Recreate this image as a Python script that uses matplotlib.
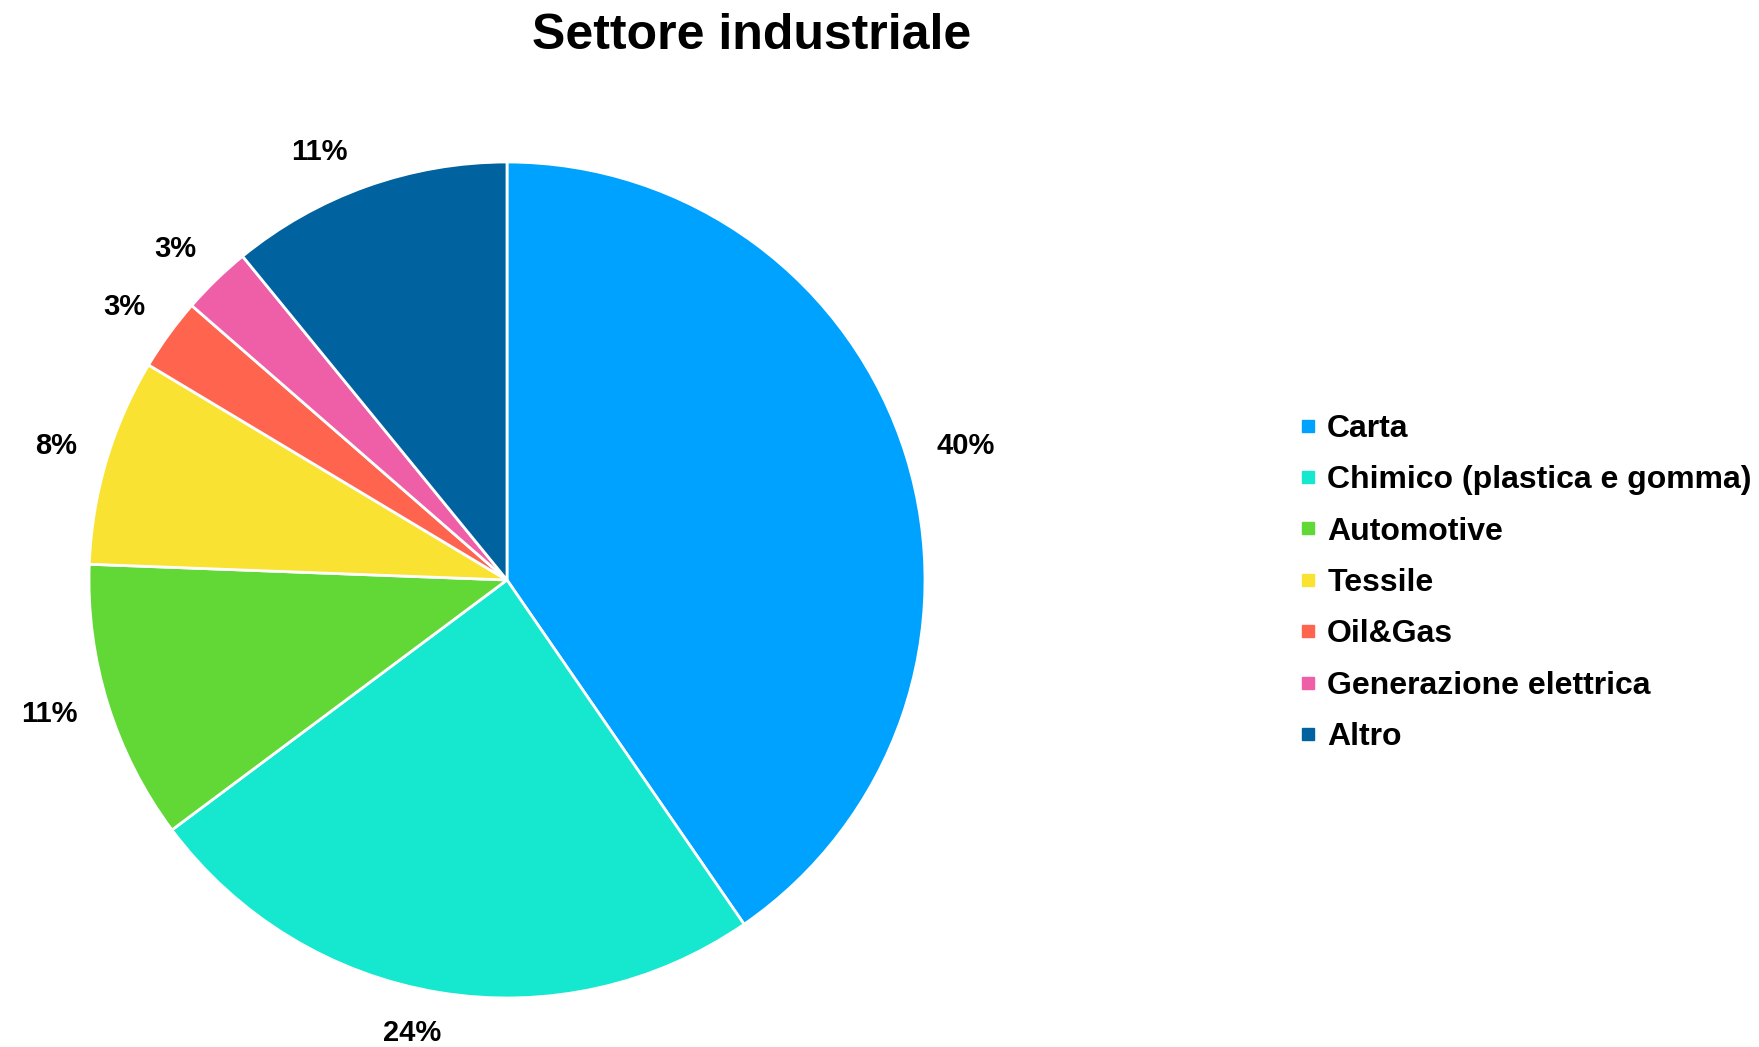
import matplotlib
matplotlib.use("Agg")
import numpy as np
import matplotlib.pyplot as plt
from matplotlib.lines import Line2D

# dati (percentuali per settore)
settori = ["Carta", "Chimico (plastica e gomma)", "Automotive", "Tessile",
           "Oil&Gas", "Generazione elettrica", "Altro"]
quote = [40.4, 24.4, 10.8, 8.0, 2.8, 2.7, 10.9]
colori = ["#00A2FF", "#16E7CF", "#61D836", "#FAE232", "#FF644E", "#EF5FA7", "#00629E"]

W, H = 1759, 1047
fig = plt.figure(figsize=(W / 100, H / 100), dpi=100)

# posizione torta: centro (507, 580) px, raggio 418 px
cx, cy, r, L = 507, 580, 418, 1.3
size = 2 * L * r
ax = fig.add_axes([(cx - size / 2) / W, (H - cy - size / 2) / H, size / W, size / H])

wedges, texts, autotexts = ax.pie(
    quote, colors=colori, startangle=90, counterclock=False,
    autopct="%.0f%%", pctdistance=1.13,
    wedgeprops=dict(edgecolor="white", linewidth=2))
for t in autotexts:
    t.set_fontsize(21)
    t.set_fontweight("bold")
    t.set_family(["Liberation Sans Narrow", "Liberation Sans", "DejaVu Sans"])
ax.set_xlim(-L, L)
ax.set_ylim(-L, L)
ax.set_aspect("equal")
ax.axis("off")

# etichette fuori dal bordo, a distanza costante dal cerchio (come Excel)
# piccolo spostamento angolare (gradi, antiorario)
spost = [-1, -2.5, -1, 0, 0.5, 1, 4]
fig.canvas.draw()
renderer = fig.canvas.get_renderer()
gap = 29 / r
for w, t, s in zip(wedges, autotexts, spost):
    ang = np.deg2rad((w.theta1 + w.theta2) / 2 + s)
    dx, dy = np.cos(ang), np.sin(ang)
    bb = t.get_window_extent(renderer)
    hw, hh = bb.width / 2 / r, bb.height / 2 / r * 0.7
    d = 1 + gap + abs(dx) * hw + abs(dy) * hh
    t.set_position((d * dx, d * dy))

fig.text(752 / W, 1 - 36 / H, "Settore industriale", ha="center", va="center",
         fontsize=36, fontweight="bold", family=["Liberation Sans", "DejaVu Sans"])

handles = [Line2D([], [], marker="s", linestyle="none", markersize=8,
                  markerfacecolor=c, markeredgecolor=c) for c in colori]
leg = fig.legend(handles, settori, loc="center left",
                 bbox_to_anchor=(1300 / W, 1 - 583 / H), frameon=False,
                 handlelength=0.5, handletextpad=0.35, labelspacing=0.67,
                 borderpad=0, borderaxespad=0,
                 prop=dict(family=["Liberation Sans", "DejaVu Sans"],
                           weight="bold", size=23))

fig.savefig("out.png", dpi=100)
